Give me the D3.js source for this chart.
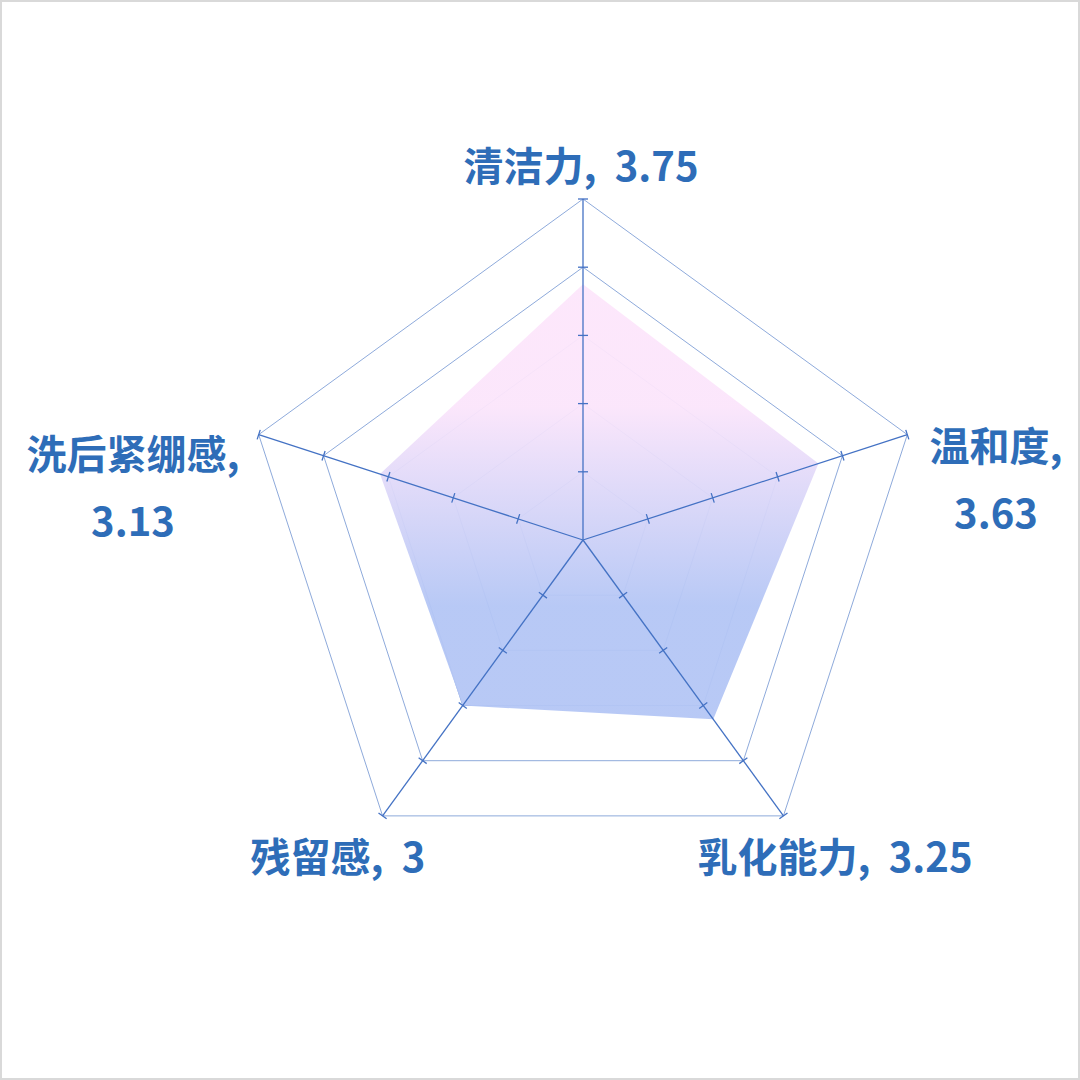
<!DOCTYPE html>
<html><head><meta charset="utf-8">
<script src="https://cdn.jsdelivr.net/npm/d3@7"></script>
<style>
html,body{margin:0;padding:0;background:#fff;}
svg{display:block;}
</style></head>
<body>
<script>
const categories = ["清洁力", "温和度", "乳化能力", "残留感", "洗后紧绷感"];
const values = [3.75, 3.63, 3.25, 3, 3.13];
const valueLabels = ["3.75", "3.63", "3.25", "3", "3.13"];
const levels = [1, 2, 3, 4, 5];

const W = 1080, H = 1080, cx = 583, cy = 540, R = 341;
const svg = d3.select("body").append("svg").attr("width", W).attr("height", H);

svg.append("rect").attr("x", 1).attr("y", 1).attr("width", W - 2).attr("height", H - 2)
  .attr("fill", "#fff").attr("stroke", "#d9d9d9").attr("stroke-width", 2);

const r = d3.scaleLinear().domain([0, 5]).range([0, R]);
const angle = d3.scaleLinear().domain([0, categories.length]).range([0, 2 * Math.PI]);
const pt = (i, v) => [cx + r(v) * Math.sin(angle(i)), cy - r(v) * Math.cos(angle(i))];

const defs = svg.append("defs");
const grad = defs.append("linearGradient").attr("id", "fillGrad")
  .attr("x1", 0).attr("y1", 0).attr("x2", 0).attr("y2", 1);
grad.append("stop").attr("offset", "0%").attr("stop-color", "#fde6fb");
grad.append("stop").attr("offset", "28%").attr("stop-color", "#fbe5fb");
grad.append("stop").attr("offset", "74%").attr("stop-color", "#b4c6f5");
grad.append("stop").attr("offset", "100%").attr("stop-color", "#b4c6f5");

const line = d3.line().curve(d3.curveLinearClosed);

// grid rings
svg.append("g").selectAll("path").data(levels).join("path")
  .attr("d", l => line(categories.map((c, i) => pt(i, l))))
  .attr("fill", "none").attr("stroke", "#8eaadb").attr("stroke-width", 1);

// data area
svg.append("path")
  .attr("d", line(values.map((v, i) => pt(i, v))))
  .attr("fill", "url(#fillGrad)").attr("fill-opacity", 0.95);

// axes
const ax = svg.append("g");
categories.forEach((c, i) => {
  const [x2, y2] = pt(i, 5);
  ax.append("line").attr("x1", cx).attr("y1", cy).attr("x2", x2).attr("y2", y2)
    .attr("stroke", "#4472c4").attr("stroke-width", 1.3);
  const a = angle(i);
  const px = Math.cos(a), py = Math.sin(a); // perpendicular
  levels.forEach(l => {
    const [x, y] = pt(i, l);
    ax.append("line").attr("x1", x - px * 5).attr("y1", y - py * 5)
      .attr("x2", x + px * 5).attr("y2", y + py * 5)
      .attr("stroke", "#4472c4").attr("stroke-width", 1.3);
  });
});

// labels
const labelPos = [
  {x: 581, lines: [categories[0] + ",  " + valueLabels[0]], y: 181},
  {x: 996, lines: [categories[1] + ",", valueLabels[1]], y: 461},
  {x: 835, lines: [categories[2] + ",  " + valueLabels[2]], y: 872},
  {x: 338, lines: [categories[3] + ",  " + valueLabels[3]], y: 872},
  {x: 133, lines: [categories[4] + ",", valueLabels[4]], y: 469}
];
const lg = svg.append("g")
  .attr("font-family", "'Noto Sans CJK SC','Noto Sans',sans-serif")
  .attr("font-weight", "bold").attr("font-size", 40).attr("fill", "#2e6db8")
  .attr("text-anchor", "middle")
  .style("white-space", "pre");
labelPos.forEach(p => {
  p.lines.forEach((t, k) => {
    lg.append("text").attr("x", p.x).attr("y", p.y + k * 67).attr("xml:space", "preserve").text(t);
  });
});
</script>
</body></html>
